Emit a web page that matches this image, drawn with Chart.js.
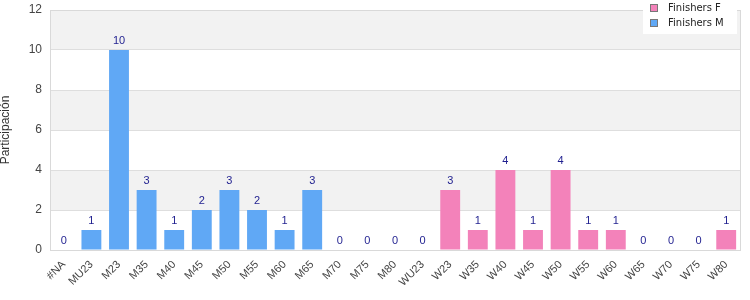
<!DOCTYPE html>
<html>
<head>
<meta charset="utf-8">
<script src="https://cdn.jsdelivr.net/npm/chart.js@4"></script>
<style>
  html, body { margin: 0; padding: 0; background: #fff; }
  #wrap { width: 750px; height: 300px; }
</style>
</head>
<body>
<div id="wrap"><canvas id="catChart"></canvas></div>
<script>
const categories = ["#NA", "MU23", "M23", "M35", "M40", "M45", "M50", "M55", "M60", "M65", "M70", "M75", "M80", "WU23",
  "W23", "W35", "W40", "W45", "W50", "W55", "W60", "W65", "W70", "W75", "W80"];
const finishersF = [null, null, null, null, null, null, null, null, null, null, null, null, null, null,
  3, 1, 4, 1, 4, 1, 1, 0, 0, 0, 1];
const finishersM = [0, 1, 10, 3, 1, 2, 3, 2, 1, 3, 0, 0, 0, 0,
  null, null, null, null, null, null, null, null, null, null, null];
const yTicks = [0, 2, 4, 6, 8, 10, 12];

const fontFam = "'Liberation Sans', Arial, sans-serif";
const pink = "rgb(243,130,186)";
const blue = "rgb(96,168,245)";

// grey bands + border
const bandsPlugin = {
  id: "bands",
  beforeDraw(chart) {
    const { ctx, chartArea: a, scales: { y } } = chart;
    ctx.save();
    ctx.fillStyle = "#f2f2f2";
    for (let i = 1; i < yTicks.length - 1; i += 2) {
      const top = y.getPixelForValue(yTicks[i + 1]);
      const bot = y.getPixelForValue(yTicks[i]);
      ctx.fillRect(a.left, top, a.right - a.left, bot - top);
    }
    ctx.restore();
  },
  afterDatasetsDraw(chart) {
    const { ctx, chartArea: a } = chart;
    ctx.save();
    ctx.strokeStyle = "#d9d9d9";
    ctx.lineWidth = 1;
    ctx.strokeRect(a.left + 0.5, a.top + 0.5, a.right - a.left, a.bottom - a.top);
    ctx.restore();
  }
};

// value labels over bars
const labelPlugin = {
  id: "valLabels",
  afterDatasetsDraw(chart) {
    const ctx = chart.ctx;
    ctx.save();
    ctx.font = "11px " + fontFam;
    ctx.fillStyle = "#1f1f8f";
    ctx.textAlign = "center";
    ctx.textBaseline = "bottom";
    chart.data.datasets.forEach((ds, di) => {
      const meta = chart.getDatasetMeta(di);
      meta.data.forEach((bar, i) => {
        const v = ds.data[i];
        if (v === null || v === undefined) return;
        ctx.fillText(String(v), bar.x, bar.y - 4);
      });
    });
    ctx.restore();
  }
};

// legend box in the top right corner
const legendPlugin = {
  id: "boxLegend",
  afterDraw(chart) {
    const ctx = chart.ctx;
    const items = [["Finishers F", pink], ["Finishers M", blue]];
    ctx.save();
    ctx.fillStyle = "#fff";
    ctx.fillRect(643, 0, 94, 34);
    ctx.font = "10px 'DejaVu Sans', sans-serif";
    ctx.textBaseline = "middle";
    ctx.textAlign = "left";
    items.forEach((it, k) => {
      const cy = 8 + k * 15;
      ctx.fillStyle = it[1];
      ctx.fillRect(650, cy - 4, 8, 8);
      ctx.strokeStyle = "#777";
      ctx.lineWidth = 1;
      ctx.strokeRect(650.5, cy - 3.5, 7, 7);
      ctx.fillStyle = "#222";
      ctx.fillText(it[0], 668, cy);
    });
    ctx.restore();
  }
};

new Chart(document.getElementById("catChart"), {
  type: "bar",
  data: {
    labels: categories,
    datasets: [
      { label: "Finishers F", data: finishersF, backgroundColor: pink, barPercentage: 0.72, categoryPercentage: 1 },
      { label: "Finishers M", data: finishersM, backgroundColor: blue, barPercentage: 0.72, categoryPercentage: 1 }
    ]
  },
  options: {
    responsive: true,
    maintainAspectRatio: false,
    animation: false,
    layout: { padding: { top: 10, right: 10, left: -2, bottom: 0 } },
    plugins: {
      legend: { display: false },
      tooltip: { enabled: false }
    },
    scales: {
      x: {
        stacked: true,
        grid: { display: false },
        border: { display: false },
        ticks: {
          color: "#444",
          font: { family: fontFam, size: 11 },
          minRotation: 45,
          maxRotation: 45,
          autoSkip: false,
          padding: 0
        },
        afterFit(s) { s.height = 50; }
      },
      y: {
        stacked: true,
        min: 0,
        max: 12,
        afterBuildTicks(s) { s.ticks = yTicks.map(v => ({ value: v })); },
        grid: { color: "#dedede", drawTicks: false },
        border: { display: false },
        ticks: { color: "#444", font: { family: fontFam, size: 12 }, padding: 8 },
        title: {
          display: true,
          text: "Participación",
          color: "#333",
          font: { family: fontFam, size: 12 },
          padding: 0
        },
        afterFit(s) { s.width = 52; s.paddingTop = 0; s.paddingBottom = 0; }
      }
    }
  },
  plugins: [bandsPlugin, labelPlugin, legendPlugin]
});
</script>
</body>
</html>
